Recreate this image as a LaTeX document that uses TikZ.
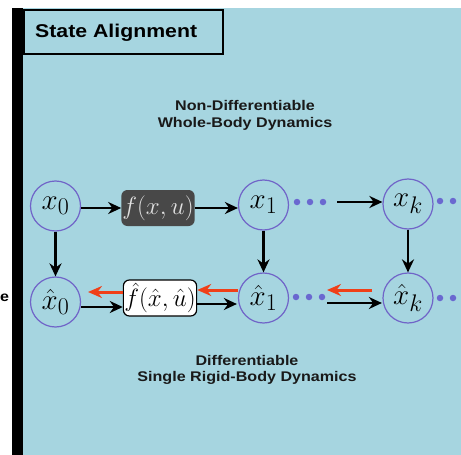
\documentclass[tikz,border=0pt]{standalone}
\usepackage{fix-cm}
\usepackage[no-math]{fontspec}
\newfontfamily\lsans[FakeStretch=1.15]{Liberation Sans}
\DeclareMathSizes{29}{29}{24}{20}
\usetikzlibrary{arrows.meta}
\definecolor{panelblue}{RGB}{166,213,224}
\definecolor{ringcol}{RGB}{112,100,200}
\definecolor{dotcol}{RGB}{106,104,208}
\definecolor{redarr}{RGB}{240,64,24}
\definecolor{darkbox}{RGB}{72,72,72}
\tikzset{
  statenode/.style={circle,draw=ringcol,line width=1.2pt,minimum size=50pt,inner sep=0pt,
     font=\fontsize{29}{32}\selectfont},
  dynbox/.style={rounded corners=6pt,minimum width=72pt,minimum height=36pt,inner sep=1pt,
     font=\fontsize{25}{30}\selectfont},
  blackarr/.style={line width=2.6pt,-{Stealth[length=13pt,width=12pt]}},
  redarrow/.style={draw=redarr,line width=3pt,-{Stealth[length=14pt,width=12pt]}},
  dotmark/.style={circle,fill=dotcol,inner sep=0pt,minimum size=6.5pt},
  lbl/.style={font=\lsans\bfseries\fontsize{14}{16.6}\selectfont,align=center,text=black!90},
}
\begin{document}
\begin{tikzpicture}[x=1pt,y=-1pt]
\useasboundingbox (0,0) rectangle (461,455);
\fill[white] (0,0) rectangle (461,455);
\fill[panelblue] (23,8) rectangle (461,455);
\fill[black] (12,8) rectangle (23,455);
\node[draw=black,line width=2pt,fill=panelblue,minimum width=199pt,minimum height=44pt,anchor=north west,inner sep=0pt] (title) at (23,9) {};
\node[anchor=base west,font=\lsans\bfseries\fontsize{18.5}{22}\selectfont,inner sep=0pt] (titletext) at (35,37) {State Alignment};
\node[font=\lsans\bfseries\fontsize{14}{16}\selectfont,inner sep=0pt] (cut) at (4.5,298) {e};

\node[lbl,anchor=base] (nd) at (245,127.3) {Non-Differentiable\\Whole-Body Dynamics};
\node[lbl,anchor=base] (dd) at (247,381.7) {Differentiable\\Single Rigid-Body Dynamics};

\node[statenode] (x0) at (55.5,206) {$x_0$};
\node[statenode] (xh0) at (55.5,302) {$\hat{x}_0$};
\node[statenode] (x1) at (263.5,205) {$x_1$};
\node[statenode] (xh1) at (263.5,298) {$\hat{x}_1$};
\node[statenode] (xk) at (408,204) {$x_k$};
\node[statenode] (xhk) at (408,298) {$\hat{x}_k$};

\node[dynbox,fill=darkbox,text=black!12] (f) at (158,208) {$f(x,u)$};
\node[dynbox,draw=black,line width=1.2pt,fill=white] (fh) at (160,298) {$\hat{f}(\hat{x},\hat{u})$};

\foreach \i/\xx in {a/297,b/310,c/323} \node[dotmark] (t\i) at (\xx,202) {};
\foreach \i/\xx in {a/296,b/309,c/322} \node[dotmark] (b\i) at (\xx,297) {};
\foreach \i/\xx in {a/440,b/453,c/466} \node[dotmark] (tk\i) at (\xx,201) {};
\foreach \i/\xx in {a/440,b/453,c/466} \node[dotmark] (bk\i) at (\xx,298) {};

\coordinate (topgap) at (337,202);
\coordinate (botgap) at (327,303);
\coordinate (redstart) at (372,290);
\coordinate (redend) at (327,290);
\coordinate (redleft) at (88,292);

% top row
\draw[blackarr] (x0.east |- f.west) -- (f.west);
\draw[blackarr] (f.east) -- (x1.west |- f.east);
\draw[blackarr] (topgap) -- (xk.west |- topgap);
% verticals
\draw[blackarr] (x0.south) -- (xh0.north);
\draw[blackarr] (x1.south) -- (xh1.north);
\draw[blackarr] (xk.south) -- (xhk.north);
% bottom row
\draw[blackarr] ([yshift=-5pt]xh0.east) -- ([yshift=-9pt]fh.west);
\draw[blackarr] ([yshift=-6pt]fh.east) -- ([yshift=-6pt,xshift=-1pt]xh1.west);
\draw[blackarr] (botgap) -- ([yshift=-5pt,xshift=-0.5pt]xhk.west);
% red back arrows
\draw[redarrow] ([yshift=6pt]fh.west) -- (redleft);
\draw[redarrow] ([yshift=8pt,xshift=0.5pt]xh1.west) -- ([yshift=8pt]fh.east);
\draw[redarrow] (redstart) -- (redend);
\end{tikzpicture}
\end{document}
